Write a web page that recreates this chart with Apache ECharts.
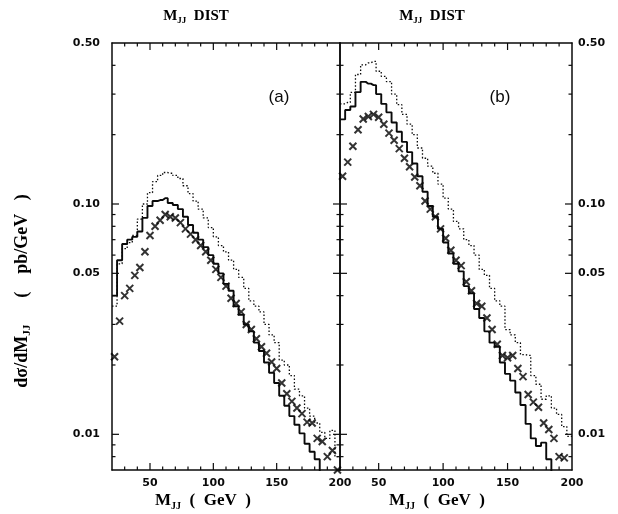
<!DOCTYPE html>
<html>
<head>
<meta charset="utf-8">
<script src="https://cdn.jsdelivr.net/npm/echarts@6/dist/echarts.min.js"></script>
<style>
html,body{margin:0;padding:0;background:#fff;}
#chart{width:618px;height:514px;}
</style>
</head>
<body>
<div id="chart"></div>
<script>
// ---- data ----
const binCenters = [22,26,30,34,38,42,46,50,54,58,62,66,70,74,78,82,86,90,94,98,102,106,110,114,118,122,126,130,134,138,142,146,150,154,158,162,166,170,174,178,182,186,190,194,198];

const solidA = [0.040,0.057,0.067,0.070,0.072,0.076,0.087,0.098,0.103,0.104,0.106,0.101,0.099,0.095,0.088,0.081,0.075,0.070,0.065,0.060,0.055,0.050,0.045,0.042,0.036,0.033,0.030,0.028,0.025,0.023,0.0205,0.0185,0.0167,0.0147,0.0133,0.012,0.011,0.0101,0.0091,0.0084,0.0078,0.005,0.005,0.005,0.005];
const dottedA = [0.036,0.055,0.064,0.068,0.073,0.086,0.100,0.112,0.125,0.133,0.137,0.136,0.133,0.129,0.120,0.111,0.103,0.095,0.087,0.079,0.072,0.066,0.062,0.057,0.052,0.048,0.043,0.038,0.036,0.034,0.030,0.027,0.025,0.021,0.020,0.018,0.0157,0.0147,0.013,0.012,0.0112,0.0102,0.0096,0.0104,0.0080];
const crossA = [0.0217,0.031,0.040,0.043,0.049,0.053,0.062,0.073,0.080,0.085,0.090,0.088,0.087,0.083,0.078,0.074,0.070,0.066,0.062,0.057,0.052,0.048,0.044,0.039,0.037,0.034,0.030,0.0285,0.026,0.024,0.0225,0.0206,0.0193,0.0167,0.015,0.0139,0.013,0.0123,0.0113,0.0112,0.0096,0.0093,0.0080,0.0085,0.0070];

const solidB = [0.233,0.256,0.265,0.306,0.339,0.333,0.328,0.300,0.272,0.250,0.226,0.206,0.186,0.168,0.150,0.132,0.113,0.098,0.088,0.078,0.068,0.061,0.055,0.051,0.044,0.041,0.035,0.032,0.028,0.025,0.024,0.0205,0.0183,0.0171,0.0152,0.0134,0.0111,0.0096,0.0089,0.0092,0.0078,0.005,0.005,0.005,0.005];
const dottedB = [0.272,0.276,0.305,0.365,0.402,0.410,0.416,0.377,0.358,0.340,0.300,0.270,0.245,0.222,0.200,0.175,0.158,0.146,0.136,0.122,0.106,0.095,0.084,0.078,0.070,0.066,0.060,0.052,0.049,0.043,0.038,0.036,0.0285,0.027,0.025,0.0222,0.022,0.018,0.0165,0.0142,0.0147,0.0130,0.0122,0.0108,0.0098];
const crossB = [0.132,0.152,0.178,0.210,0.234,0.240,0.245,0.238,0.222,0.203,0.189,0.174,0.158,0.145,0.131,0.120,0.103,0.095,0.088,0.078,0.071,0.063,0.057,0.054,0.046,0.042,0.037,0.036,0.032,0.0285,0.0246,0.022,0.0215,0.022,0.0193,0.0178,0.0149,0.0138,0.0131,0.0112,0.0105,0.0096,0.0080,0.0079,null];

const xLabelValues = [50,100,150,200];
const xMajorTicks = [50,100,150];
const xMinorTicks = [30,40,60,70,80,90,110,120,130,140,160,170,180,190];
const yLabelValues = [0.01,0.05,0.10,0.50];
const yMajorTicks = [0.01,0.05,0.1];
const yMinorTicks = [0.008,0.009,0.02,0.03,0.04,0.06,0.07,0.08,0.09,0.2,0.3,0.4];

// ---- chart ----
const X_MIN = 20, X_MAX = 200, Y_MIN = 0.007, Y_MAX = 0.5;
const INK = '#0a0a0a';
const MAJOR_LEN = 7, MINOR_LEN = 3.5;
const labelFont = {fontFamily:'DejaVu Sans', fontWeight:'bold', fontSize:11, color:INK};

function stepData(vals){
  const d = [[X_MIN, vals[0]]];
  binCenters.forEach((x,i)=>d.push([x, vals[i]]));
  d.push([X_MAX, vals[vals.length-1]]);
  return d;
}
function pts(vals){ return binCenters.map((x,i)=>[x, vals[i]]); }

function xAxesFor(g){
  const base = {type:'value', gridIndex:g, min:X_MIN, max:X_MAX, splitLine:{show:false}, axisTick:{show:false}};
  return [
    Object.assign({}, base, {position:'bottom',
      axisLine:{show:true, onZero:false, lineStyle:{color:INK, width:1.5}},
      axisLabel:Object.assign({show:true, customValues:xLabelValues, margin:8}, labelFont)}),
    Object.assign({}, base, {position:'top',
      axisLine:{show:true, onZero:false, lineStyle:{color:INK, width:1.5}},
      axisLabel:{show:false}})
  ];
}
function yAxesFor(g, labelSide){
  const base = {type:'log', logBase:10, gridIndex:g, min:Y_MIN, max:Y_MAX, splitLine:{show:false}, axisTick:{show:false}};
  const fmt = v => Number(v).toFixed(2);
  return [
    Object.assign({}, base, {position:'left',
      axisLine:{show:true, onZero:false, lineStyle:{color:INK, width:1.5}},
      axisLabel:Object.assign({show:labelSide==='left', customValues:yLabelValues, formatter:fmt, margin:12}, labelFont)}),
    Object.assign({}, base, {position:'right',
      axisLine:{show:true, onZero:false, lineStyle:{color:INK, width:1.5}},
      axisLabel:Object.assign({show:labelSide==='right', customValues:yLabelValues, formatter:fmt, margin:6}, labelFont)})
  ];
}

// tick rows built from the tick value lists: [value, length]
const xTickRows = xMajorTicks.map(v=>[v, MAJOR_LEN]).concat(xMinorTicks.map(v=>[v, MINOR_LEN]));
const yTickRows = yMajorTicks.map(v=>[MAJOR_LEN, v]).concat(yMinorTicks.map(v=>[MINOR_LEN, v]));

function tickSeries(g){
  const xi = g*2, yi = g*2;
  return [
    {type:'custom', xAxisIndex:xi, yAxisIndex:yi, data:xTickRows, clip:false, silent:true, animation:false,
      encode:{x:0, y:1},
      renderItem:(params, api)=>{
        const v = api.value(0), len = api.value(1);
        const b = api.coord([v, Y_MIN]), t = api.coord([v, Y_MAX]);
        return {type:'group', children:[
          {type:'line', shape:{x1:b[0], y1:b[1], x2:b[0], y2:b[1]-len}, style:{stroke:INK, lineWidth:1.2}},
          {type:'line', shape:{x1:t[0], y1:t[1], x2:t[0], y2:t[1]+len}, style:{stroke:INK, lineWidth:1.2}}
        ]};
      }},
    {type:'custom', xAxisIndex:xi, yAxisIndex:yi, data:yTickRows, clip:false, silent:true, animation:false,
      encode:{x:0, y:1},
      renderItem:(params, api)=>{
        const len = api.value(0), v = api.value(1);
        const l = api.coord([X_MIN, v]), r = api.coord([X_MAX, v]);
        return {type:'group', children:[
          {type:'line', shape:{x1:l[0], y1:l[1], x2:l[0]+len, y2:l[1]}, style:{stroke:INK, lineWidth:1.2}},
          {type:'line', shape:{x1:r[0], y1:r[1], x2:r[0]-len, y2:r[1]}, style:{stroke:INK, lineWidth:1.2}}
        ]};
      }}
  ];
}

function seriesFor(g, solid, dotted, cross){
  const xi = g*2, yi = g*2;
  return [
    {type:'line', xAxisIndex:xi, yAxisIndex:yi, data:stepData(dotted), step:'middle', symbol:'none',
      lineStyle:{color:INK, width:1.3, type:[1.5,2]}, silent:true, animation:false},
    {type:'line', xAxisIndex:xi, yAxisIndex:yi, data:stepData(solid), step:'middle', symbol:'none',
      lineStyle:{color:INK, width:1.9}, silent:true, animation:false},
    {type:'scatter', xAxisIndex:xi, yAxisIndex:yi, data:pts(cross),
      symbol:'path://M0,0L10,10M10,0L0,10', symbolSize:7,
      itemStyle:{color:'rgba(0,0,0,0)', borderColor:'#000', borderWidth:2}, silent:true, animation:false}
  ];
}

const serif = 'Liberation Serif';
function richStyle(size, sub){
  return {
    m:{fontFamily:serif, fontSize:size, fontWeight:'bold', color:INK, lineHeight:size+4, verticalAlign:'middle'},
    s:{fontFamily:serif, fontSize:sub, fontWeight:'bold', color:INK, lineHeight:sub+1, verticalAlign:'bottom'}
  };
}
function txt(x, y, text, size, sub, rotation){
  return {type:'text', x:x, y:y, rotation:rotation||0, silent:true,
    style:{text:text, rich:richStyle(size, sub), align:'center', verticalAlign:'middle'}};
}

const option = {
  animation:false,
  backgroundColor:'#fff',
  grid:[
    {left:112, top:43, width:228, height:427},
    {left:340, top:43, width:232, height:427}
  ],
  xAxis:[].concat(xAxesFor(0), xAxesFor(1)),
  yAxis:[].concat(yAxesFor(0,'left'), yAxesFor(1,'right')),
  series:[].concat(
    tickSeries(0), tickSeries(1),
    seriesFor(0, solidA, dottedA, crossA), seriesFor(1, solidB, dottedB, crossB)),
  graphic:[
    txt(196, 16, '{m|M}{s|JJ}{m|  DIST}', 15, 9),
    txt(432, 16, '{m|M}{s|JJ}{m|  DIST}', 15, 9),
    txt(203, 501, '{m|M}{s|JJ}{m|  (  GeV  )}', 17, 10),
    txt(437, 501, '{m|M}{s|JJ}{m|  (  GeV  )}', 17, 10),
    txt(22, 291, '{m|dσ/dM}{s|JJ}{m|      (    pb/GeV   )}', 18, 11, Math.PI/2),
    {type:'text', x:279, y:97, silent:true, style:{text:'(a)', font:'17px "Liberation Sans"', fill:INK, align:'center', verticalAlign:'middle'}},
    {type:'text', x:500, y:97, silent:true, style:{text:'(b)', font:'17px "Liberation Sans"', fill:INK, align:'center', verticalAlign:'middle'}}
  ]
};

const chart = echarts.init(document.getElementById('chart'), null, {renderer:'canvas'});
chart.setOption(option);
</script>
</body>
</html>
